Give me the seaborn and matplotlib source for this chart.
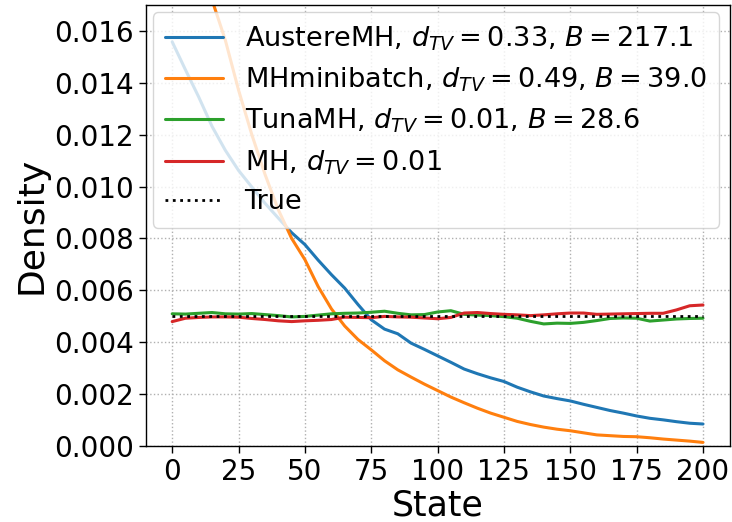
import numpy as np
import pandas as pd
import matplotlib
matplotlib.use("Agg")
import matplotlib.pyplot as plt
from matplotlib.ticker import FormatStrFormatter
import seaborn as sns

states = list(range(0, 201, 5))

austere = [0.01558, 0.01450, 0.01345, 0.01232, 0.01140, 0.01062, 0.00998, 0.00935,
           0.00878, 0.00822, 0.00776, 0.00716, 0.00660, 0.00608, 0.00545, 0.00486,
           0.00450, 0.00432, 0.00396, 0.00372, 0.00347, 0.00322, 0.00296, 0.00278,
           0.00262, 0.00248, 0.00226, 0.00208, 0.00192, 0.00182, 0.00173, 0.00160,
           0.00148, 0.00136, 0.00126, 0.00115, 0.00106, 0.00100, 0.00093, 0.00087,
           0.00084]
minibatch = [0.0245, 0.0218, 0.0193, 0.0172, 0.01565, 0.01372, 0.01200, 0.01046,
             0.00910, 0.00800, 0.00718, 0.00614, 0.00528, 0.00462, 0.00410, 0.00370,
             0.00328, 0.00293, 0.00265, 0.00238, 0.00213, 0.00188, 0.00166, 0.00145,
             0.00126, 0.00110, 0.00094, 0.00082, 0.00072, 0.00064, 0.00058, 0.00050,
             0.00042, 0.00039, 0.00036, 0.00035, 0.00031, 0.00026, 0.00022, 0.00018,
             0.00013]
tuna = [0.00509, 0.00508, 0.00511, 0.00514, 0.00509, 0.00508, 0.00510, 0.00506,
        0.00502, 0.00497, 0.00499, 0.00504, 0.00509, 0.00511, 0.00512, 0.00515,
        0.00519, 0.00511, 0.00505, 0.00506, 0.00516, 0.00521, 0.00507, 0.00504,
        0.00502, 0.00498, 0.00492, 0.00480, 0.00470, 0.00473, 0.00472, 0.00476,
        0.00483, 0.00491, 0.00493, 0.00492, 0.00481, 0.00485, 0.00489, 0.00491,
        0.00492]
mh = [0.00479, 0.00492, 0.00495, 0.00497, 0.00497, 0.00496, 0.00491, 0.00487,
      0.00482, 0.00479, 0.00482, 0.00484, 0.00487, 0.00496, 0.00495, 0.00494,
      0.00499, 0.00497, 0.00496, 0.00493, 0.00490, 0.00495, 0.00512, 0.00514,
      0.00510, 0.00507, 0.00505, 0.00502, 0.00505, 0.00509, 0.00512, 0.00512,
      0.00507, 0.00508, 0.00509, 0.00510, 0.00511, 0.00511, 0.00524, 0.00540,
      0.00543]
true_density = [0.005] * len(states)

labels = [r"AustereMH, $d_{TV} = 0.33$, $B = 217.1$",
          r"MHminibatch, $d_{TV} = 0.49$, $B = 39.0$",
          r"TunaMH, $d_{TV} = 0.01$, $B = 28.6$",
          r"MH, $d_{TV} = 0.01$",
          "True"]
colors = ["#1f77b4", "#ff7f0e", "#2ca02c", "#d62728", "black"]
series = [austere, minibatch, tuna, mh, true_density]

sns.set_style("ticks")
plt.rcParams["font.family"] = ["DejaVu Sans"]
plt.rcParams.update({"text.color": "black", "axes.labelcolor": "black",
                     "xtick.color": "black", "ytick.color": "black"})

fig = plt.figure(figsize=(7.32, 5.22), dpi=100)
ax = fig.add_axes([0.199, 0.146, 0.7976, 0.8444])

for vals, lab, col in zip(series, labels, colors):
    df = pd.DataFrame({"State": states, "Density": vals})
    if lab == "True":
        sns.lineplot(data=df, x="State", y="Density", ax=ax, color=col,
                     label=lab, linestyle=":", linewidth=2)
    else:
        sns.lineplot(data=df, x="State", y="Density", ax=ax, color=col,
                     label=lab, linewidth=2.2)

ax.set_xlim(-10, 210)
ax.set_ylim(0, 0.017)
ax.set_xticks(range(0, 201, 25))
ax.set_yticks(np.arange(0, 0.0161, 0.002))
ax.yaxis.set_major_formatter(FormatStrFormatter("%.3f"))
ax.grid(True, linestyle=":", color="#b0b0b0", linewidth=1)
ax.tick_params(labelsize=20, length=5, width=1, color="black", labelcolor="black")
for sp in ax.spines.values():
    sp.set_color("black")
    sp.set_linewidth(1)
ax.set_xlabel("State", fontsize=25, color="black", labelpad=2)
ax.set_ylabel("Density", fontsize=26, color="black")

leg = ax.legend(loc="upper left", bbox_to_anchor=(0.0, 1.0), borderaxespad=0.27,
                fontsize=19.5, framealpha=0.8, handlelength=2.15, labelspacing=0.47,
                handletextpad=0.78, borderpad=0.45)
for t in leg.get_texts():
    t.set_color("black")

fig.savefig("out.png", dpi=100)
